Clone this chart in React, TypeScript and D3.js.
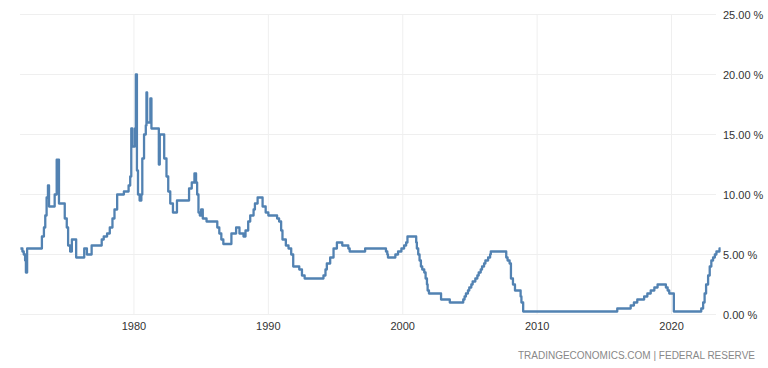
import React from "react";
import * as d3 from "d3";

// Change points of the rate (decimal year, percent)
const years: number[] = [
  1971.55, 1971.7, 1971.8, 1971.9, 1971.96, 1972.05, 1973.0, 1973.15, 1973.3, 1973.4, 1973.5, 1973.6, 1973.68,
  1974.1, 1974.25, 1974.42, 1974.85, 1975.0, 1975.1, 1975.25, 1975.38, 1975.7, 1976.3, 1976.5, 1976.85,
  1977.6, 1977.75, 1978.0, 1978.2, 1978.4, 1978.55, 1978.75, 1979.25, 1979.6, 1979.72, 1979.8, 1979.88,
  1980.07, 1980.14, 1980.22, 1980.3, 1980.42, 1980.55, 1980.62, 1980.75, 1980.88, 1980.93, 1980.98, 1981.22,
  1981.3, 1981.85, 1981.92, 1982.25, 1982.42, 1982.55, 1982.7, 1982.9, 1983.2, 1984.1, 1984.3, 1984.5,
  1984.62, 1984.7, 1984.8, 1984.9, 1985.0, 1985.12, 1985.4, 1986.2, 1986.35, 1986.5, 1986.65, 1987.25,
  1987.6, 1987.85, 1988.15, 1988.3, 1988.5, 1988.65, 1988.9, 1989.0, 1989.2, 1989.45, 1989.57, 1989.8,
  1990.0, 1990.65, 1990.8, 1990.95, 1991.05, 1991.3, 1991.5, 1991.7, 1991.85, 1992.3, 1992.5, 1992.7,
  1994.1, 1994.25, 1994.35, 1994.6, 1994.85, 1995.1, 1995.5, 1995.95, 1996.05, 1997.2, 1998.75, 1998.85,
  1998.9, 1999.45, 1999.65, 1999.9, 2000.1, 2000.25, 2000.35, 2001.0, 2001.05, 2001.15, 2001.25, 2001.35,
  2001.45, 2001.6, 2001.7, 2001.8, 2001.85, 2001.95, 2002.85, 2003.5, 2004.5, 2004.6, 2004.7, 2004.85,
  2004.95, 2005.1, 2005.2, 2005.4, 2005.55, 2005.65, 2005.8, 2005.9, 2006.05, 2006.15, 2006.35, 2006.5,
  2006.55, 2007.7, 2007.8, 2007.95, 2008.05, 2008.2, 2008.35, 2008.77, 2008.83, 2008.96, 2015.96, 2016.96,
  2017.2, 2017.45, 2017.96, 2018.2, 2018.45, 2018.72, 2018.96, 2019.58, 2019.71, 2019.83, 2020.17, 2022.21,
  2022.35, 2022.46, 2022.57, 2022.72, 2022.84, 2022.96, 2023.09, 2023.22, 2023.34, 2023.57, 2023.65,
];
const rates: number[] = [
  5.5, 5.25, 5.0, 4.5, 3.5, 5.5, 5.5, 6.5, 7.25, 8.25, 9.75, 10.75, 9.0,
  10.0, 12.9, 9.25, 8.0, 7.25, 5.75, 5.25, 6.25, 4.75, 5.5, 5.0, 5.75,
  6.25, 6.5, 6.75, 7.25, 8.0, 8.75, 10.0, 10.25, 10.75, 11.5, 15.5, 14.0,
  15.5, 20.0, 12.0, 10.0, 9.5, 10.0, 13.0, 15.0, 15.75, 18.5, 16.0, 18.0,
  15.5, 12.5, 15.0, 13.0, 11.5, 10.25, 9.25, 8.5, 9.5, 10.5, 11.0, 11.75,
  11.0, 10.0, 8.5, 8.25, 8.75, 8.0, 7.75, 7.25, 6.75, 6.25, 5.875, 6.75,
  7.25, 6.75, 6.5, 7.0, 7.75, 8.25, 8.75, 9.25, 9.75, 9.75, 9.0, 8.5,
  8.25, 8.0, 7.75, 7.0, 6.25, 5.75, 5.5, 5.0, 4.0, 3.75, 3.25, 3.0,
  3.25, 3.75, 4.25, 4.75, 5.5, 6.0, 5.75, 5.5, 5.25, 5.5, 5.25, 5.0,
  4.75, 5.0, 5.25, 5.5, 5.75, 6.0, 6.5, 6.0, 5.5, 5.0, 4.5, 4.0,
  3.75, 3.5, 3.0, 2.5, 2.0, 1.75, 1.25, 1.0, 1.25, 1.5, 1.75, 2.0,
  2.25, 2.5, 2.75, 3.0, 3.25, 3.5, 3.75, 4.0, 4.25, 4.5, 4.75, 5.0,
  5.25, 4.75, 4.5, 4.25, 3.0, 2.5, 2.0, 1.5, 1.0, 0.25, 0.5, 0.75,
  1.0, 1.25, 1.5, 1.75, 2.0, 2.25, 2.5, 2.25, 2.0, 1.75, 0.25, 0.5,
  1.0, 1.75, 2.5, 3.25, 4.0, 4.5, 4.75, 5.0, 5.25, 5.5, 5.5,
];
const xTicks: number[] = [1980, 1990, 2000, 2010, 2020];
const yTicks: number[] = [0, 5, 10, 15, 20, 25];
const sourceText = "TRADINGECONOMICS.COM | FEDERAL RESERVE";

const W = 768;
const H = 368;

export default function App() {
  const data = years.map((y, i) => ({ t: y, v: rates[i] }));
  const x = d3.scaleLinear().domain([1971.55, 2023.65]).range([20.4, 720.6]);
  const y = d3.scaleLinear().domain([0, 25]).range([314.5, 14.5]);
  const line = d3
    .line<{ t: number; v: number }>()
    .x((d) => x(d.t))
    .y((d) => y(d.v))
    .curve(d3.curveStepAfter);
  const font = "'Liberation Sans', Arial, sans-serif";
  return (
    <svg
      width={W}
      height={H}
      style={{ position: "absolute", left: 0, top: 0, background: "#fff" }}
      fontFamily={font}
    >
      <g>
        {yTicks.map((t) => (
          <line key={"gy" + t} x1={20} x2={716} y1={y(t)} y2={y(t)} stroke="#efefef" strokeWidth={1} />
        ))}
        {xTicks.map((t) => (
          <line key={"gx" + t} x1={x(t)} x2={x(t)} y1={y(25)} y2={y(0)} stroke="#efefef" strokeWidth={1} />
        ))}
      </g>
      <path d={line(data) || ""} fill="none" stroke="#5282b2" strokeWidth={2.3} strokeLinejoin="round" />
      <g fontSize={11} fill="#333">
        {xTicks.map((t) => (
          <text key={"tx" + t} x={x(t)} y={329.5} textAnchor="middle">
            {t}
          </text>
        ))}
        {yTicks.map((t) => (
          <text key={"ty" + t} x={723} y={y(t) + 4} textAnchor="start">
            {t.toFixed(2) + " %"}
          </text>
        ))}
      </g>
      <text x={755} y={359} textAnchor="end" fontSize={10} fill="#888">
        {sourceText}
      </text>
    </svg>
  );
}
